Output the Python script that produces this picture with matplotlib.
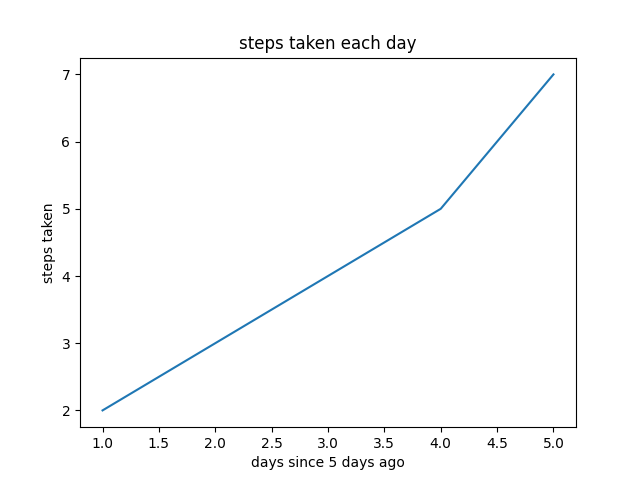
import matplotlib
matplotlib.use("Agg")
from matplotlib import pyplot as plt

days = [1, 2, 3, 4, 5]
steps = [2, 3, 4, 5, 7]

fig = plt.figure(figsize=[6.4, 4.8], dpi=100)
plt.plot(days, steps)
plt.title("steps taken each day")
plt.xlabel("days since 5 days ago")
plt.ylabel("steps taken")
fig.savefig("out.png")
plt.close(fig)
